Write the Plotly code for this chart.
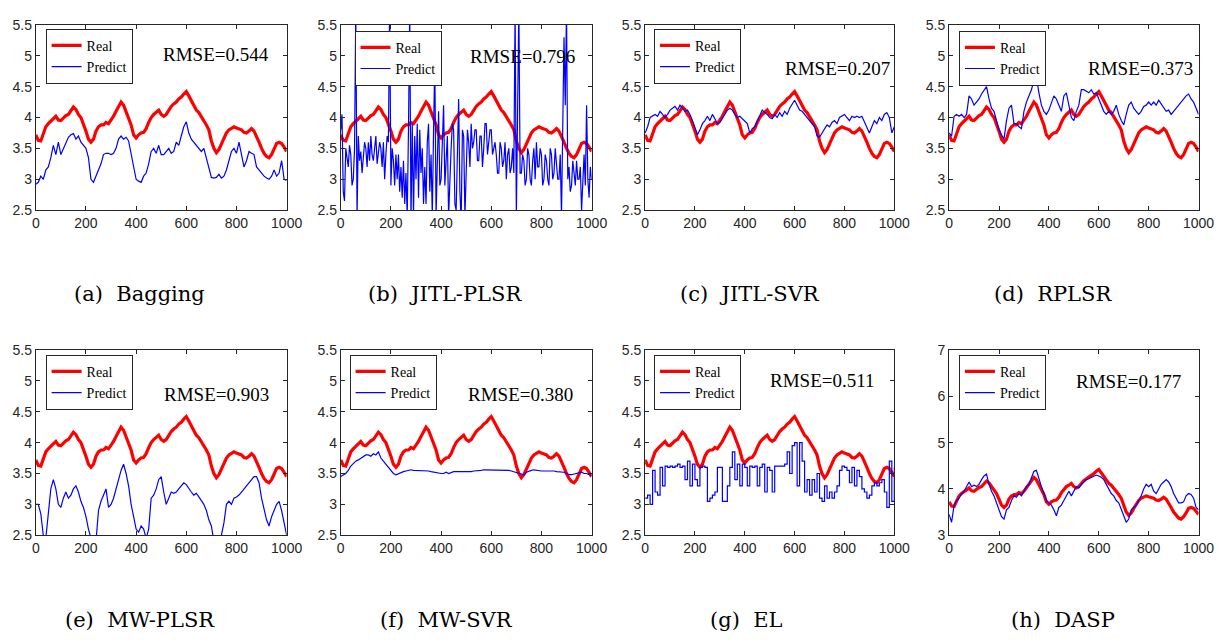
import plotly.graph_objects as go

# ---------------- data ----------------
x_index = list(range(0, 1001, 10))
x_index_fine = list(range(0, 1001, 5))

real = [3.72, 3.63, 3.62, 3.75, 3.85, 3.90, 3.95, 3.98, 4.02, 3.96,
        3.95, 4.00, 4.03, 4.05, 4.12, 4.17, 4.13, 4.05, 4.00, 3.90,
        3.78, 3.65, 3.60, 3.65, 3.78, 3.85, 3.88, 3.88, 3.92, 3.90,
        3.95, 4.02, 4.10, 4.18, 4.25, 4.20, 4.10, 4.00, 3.88, 3.72,
        3.67, 3.72, 3.75, 3.76, 3.82, 3.92, 4.00, 4.05, 4.08, 4.12,
        4.05, 4.02, 4.05, 4.12, 4.18, 4.22, 4.25, 4.30, 4.33, 4.38,
        4.42, 4.35, 4.28, 4.20, 4.12, 4.08, 4.02, 3.95, 3.88, 3.80,
        3.62, 3.50, 3.43, 3.48, 3.58, 3.68, 3.75, 3.80, 3.82, 3.85,
        3.83, 3.82, 3.80, 3.76, 3.75, 3.78, 3.82, 3.78, 3.70, 3.60,
        3.50, 3.42, 3.37, 3.35, 3.40, 3.48, 3.58, 3.60, 3.58, 3.52,
        3.45]

pred_bagging = [2.92, 2.95, 3.05, 3.00, 3.15, 3.20, 3.35, 3.55, 3.40, 3.60,
                3.40, 3.50, 3.60, 3.68, 3.72, 3.74, 3.65, 3.70, 3.60, 3.55,
                3.50, 3.35, 3.00, 2.95, 3.05, 3.15, 3.25, 3.40, 3.42, 3.42,
                3.40, 3.42, 3.50, 3.65, 3.70, 3.65, 3.68, 3.62, 3.40, 3.20,
                3.00, 2.97, 2.95, 3.05, 3.10, 3.25, 3.45, 3.50, 3.42, 3.55,
                3.40, 3.40, 3.45, 3.50, 3.42, 3.45, 3.60, 3.55, 3.70, 3.85,
                3.93, 3.75, 3.65, 3.60, 3.55, 3.50, 3.45, 3.50, 3.35, 3.20,
                3.03, 3.02, 3.03, 3.08, 3.02, 3.05, 3.15, 3.30, 3.45, 3.50,
                3.42, 3.60, 3.40, 3.20, 3.30, 3.45, 3.42, 3.40, 3.20, 3.15,
                3.10, 3.05, 3.02, 3.00, 3.05, 3.15, 3.05, 3.10, 3.30, 3.00,
                2.98]

# sampled every 5 (denser, noisy series)
pred_jitl_plsr = [3.80, 4.05, 2.80, 2.65, 3.50, 3.30, 3.20, 3.55, 3.40, 2.90,
                  3.00, 3.50, 5.80, 2.40, 3.70, 3.30, 3.45, 3.10, 3.30, 3.60,
                  3.50, 3.20, 3.60, 3.30, 3.70, 3.40, 3.30, 3.55, 3.70, 3.25,
                  3.40, 3.60, 3.50, 3.20, 3.60, 3.00, 3.40, 3.70, 3.60, 5.90,
                  2.90, 3.50, 3.30, 2.90, 3.40, 3.00, 3.40, 2.80, 3.20, 2.70,
                  3.30, 2.60, 3.10, 2.40, 3.80, 5.80, 2.30, 3.90, 2.40, 3.70,
                  3.00, 3.90, 2.70, 3.80, 3.10, 3.50, 2.60, 3.20, 2.60, 3.60,
                  3.90, 2.80, 3.40, 2.40, 3.80, 4.90, 2.40, 3.30, 4.10, 2.90,
                  3.00, 3.60, 4.20, 2.90, 3.30, 3.70, 2.40, 3.10, 3.50, 3.90,
                  3.80, 2.60, 2.50, 3.40, 4.30, 2.80, 2.30, 3.80, 3.70, 2.40,
                  3.30, 3.80, 3.60, 3.20, 3.90, 3.50, 3.60, 3.80, 3.80, 3.30,
                  3.30, 3.70, 3.70, 3.20, 3.50, 3.90, 3.90, 3.40, 3.60, 3.80,
                  3.80, 3.40, 3.50, 3.60, 3.40, 3.10, 3.10, 3.60, 3.50, 3.20,
                  3.30, 3.60, 3.00, 3.40, 3.50, 3.10, 3.20, 3.50, 3.10, 5.80,
                  2.40, 3.90, 5.80, 3.10, 3.10, 3.40, 3.30, 2.90, 3.00, 3.50,
                  3.40, 3.00, 2.90, 3.30, 3.50, 3.00, 3.60, 3.20, 3.20, 3.50,
                  3.40, 2.90, 3.00, 3.40, 3.30, 3.00, 2.90, 3.50, 3.40, 3.00,
                  3.10, 3.50, 3.30, 3.00, 3.00, 3.40, 2.40, 3.60, 5.30, 4.20,
                  5.80, 3.00, 3.20, 2.80, 2.90, 3.30, 3.10, 2.90, 3.30, 3.00,
                  3.00, 3.20, 2.50, 3.00, 3.40, 2.90, 4.20, 3.00, 2.70, 3.20,
                  3.00]

pred_jitl_svr = [3.75, 3.85, 4.00, 4.02, 4.05, 4.02, 4.10, 4.05, 4.00, 4.05,
                 4.12, 4.15, 4.18, 4.12, 4.20, 4.15, 4.10, 4.12, 4.05, 3.95,
                 3.82, 3.72, 3.80, 3.90, 3.95, 4.02, 3.95, 4.05, 3.98, 3.90,
                 3.92, 3.98, 4.05, 4.12, 4.15, 4.12, 4.05, 4.00, 4.02, 3.98,
                 3.95, 3.90, 3.75, 3.82, 3.85, 3.95, 4.05, 4.12, 4.08, 4.05,
                 4.00, 3.98, 4.05, 4.00, 4.08, 4.02, 4.10, 4.05, 4.15, 4.22,
                 4.28, 4.20, 4.12, 4.10, 4.05, 4.00, 3.95, 3.90, 3.85, 3.70,
                 3.68, 3.75, 3.82, 3.88, 3.85, 3.92, 3.95, 3.90, 4.00, 4.02,
                 4.05, 4.00, 3.95, 4.02, 4.00, 4.02, 4.00, 4.02, 3.92, 3.85,
                 3.75, 3.85, 3.95, 3.90, 4.00, 3.95, 4.05, 4.08, 4.00, 3.75,
                 3.85]

pred_rplsr = [3.75, 3.70, 4.02, 4.05, 4.02, 4.05, 4.00, 4.05, 4.35, 4.30,
              4.20, 4.25, 4.30, 4.38, 4.45, 4.50, 4.30, 4.15, 4.10, 3.95,
              3.80, 3.72, 3.65, 3.95, 4.15, 4.20, 3.90, 3.90, 3.85, 3.82,
              4.10, 4.25, 4.35, 4.45, 4.60, 4.65, 4.40, 4.20, 4.10, 4.05,
              4.12, 4.25, 4.35, 4.30, 4.20, 4.10, 4.35, 4.40, 4.20, 4.00,
              3.95, 4.10, 4.20, 4.45, 4.45, 4.42, 4.40, 4.45, 4.38, 4.40,
              4.30, 4.20, 4.10, 4.05, 4.10, 4.05, 4.10, 4.20, 4.05, 3.95,
              3.88, 4.05, 4.20, 4.25, 4.15, 4.10, 4.05, 4.10, 4.18, 4.20,
              4.25, 4.20, 4.25, 4.20, 4.28, 4.22, 4.15, 4.10, 4.12, 4.05,
              4.10, 4.15, 4.20, 4.25, 4.30, 4.35, 4.38, 4.30, 4.25, 4.15,
              4.05]

pred_mw_plsr = [3.00, 3.00, 2.85, 2.50, 2.45, 2.90, 3.25, 3.40, 3.25, 3.00,
                2.95, 3.10, 3.20, 3.10, 3.15, 3.25, 3.30, 3.20, 3.05, 2.95,
                2.80, 2.60, 2.45, 2.30, 2.40, 2.90, 3.05, 3.15, 3.25, 2.95,
                3.00, 3.10, 3.25, 3.40, 3.55, 3.65, 3.50, 3.30, 3.00, 2.80,
                2.60, 2.55, 2.65, 2.60, 2.45, 2.60, 3.10, 3.15, 3.25, 3.40,
                3.45, 3.20, 3.00, 3.10, 3.20, 3.18, 3.20, 3.25, 3.30, 3.35,
                3.32, 3.25, 3.20, 3.15, 3.18, 3.12, 3.05, 3.00, 2.90, 2.75,
                2.65, 2.40, 2.30, 2.35, 2.50, 2.70, 3.00, 3.05, 3.00, 3.10,
                3.12, 3.15, 3.20, 3.25, 3.30, 3.35, 3.40, 3.45, 3.45, 3.35,
                3.10, 2.90, 2.75, 2.65, 2.80, 2.90, 3.00, 3.05, 2.90, 2.70,
                2.50]

pred_mw_svr = [3.45, 3.48, 3.50, 3.55, 3.62, 3.66, 3.70, 3.72, 3.75, 3.78,
               3.80, 3.80, 3.78, 3.82, 3.80, 3.85, 3.75, 3.70, 3.65, 3.60,
               3.55, 3.50, 3.48, 3.50, 3.52, 3.53, 3.54, 3.55, 3.56, 3.55,
               3.55, 3.54, 3.55, 3.55, 3.55, 3.54, 3.53, 3.52, 3.51, 3.50,
               3.50, 3.50, 3.52, 3.50, 3.52, 3.53, 3.53, 3.53, 3.53, 3.52,
               3.53, 3.53, 3.53, 3.54, 3.54, 3.54, 3.55, 3.56, 3.56, 3.56,
               3.56, 3.56, 3.56, 3.55, 3.55, 3.55, 3.55, 3.55, 3.54, 3.53,
               3.52, 3.50, 3.50, 3.48, 3.52, 3.54, 3.55, 3.56, 3.55, 3.54,
               3.54, 3.54, 3.54, 3.55, 3.54, 3.54, 3.53, 3.53, 3.53, 3.52,
               3.50, 3.48, 3.48, 3.49, 3.50, 3.52, 3.52, 3.50, 3.50, 3.48,
               3.47]

pred_el = [3.10, 3.15, 3.00, 3.55, 3.20, 3.15, 3.60, 3.30, 3.62, 3.60,
           3.62, 3.60, 3.62, 3.65, 3.60, 3.62, 3.40, 3.70, 3.30, 3.65,
           3.40, 3.30, 3.60, 3.62, 3.60, 3.05, 3.10, 3.15, 3.20, 3.60,
           3.60, 3.05, 3.05, 3.30, 3.60, 3.85, 3.40, 3.65, 3.30, 3.65,
           3.60, 3.30, 3.62, 3.60, 3.62, 3.30, 3.60, 3.65, 3.20, 3.60,
           3.55, 3.20, 3.62, 3.62, 3.62, 3.62, 3.65, 3.85, 3.50, 3.95,
           4.00, 3.30, 4.00, 3.70, 3.20, 3.40, 3.15, 3.40, 3.20, 3.50,
           3.10, 3.05, 3.30, 3.10, 3.20, 3.10, 3.20, 3.30, 3.55, 3.62,
           3.60, 3.55, 3.35, 3.60, 3.30, 3.55, 3.45, 3.25, 3.20, 3.10,
           3.15, 3.30, 3.35, 3.30, 3.35, 3.40, 3.20, 2.95, 3.70, 3.05,
           3.60]

pred_dasp = [3.45, 3.28, 3.65, 3.75, 3.80, 3.90, 3.95, 4.05, 4.15, 4.05,
             4.08, 4.05, 4.10, 4.20, 4.28, 4.32, 4.10, 3.95, 3.85, 3.70,
             3.55, 3.40, 3.35, 3.55, 3.60, 3.75, 3.85, 3.82, 3.90, 3.85,
             3.95, 4.05, 4.10, 4.25, 4.38, 4.40, 4.20, 4.05, 3.90, 3.75,
             3.70, 3.65, 3.55, 3.42, 3.60, 3.65, 3.75, 3.85, 3.95, 3.85,
             3.95, 4.05, 4.02, 4.10, 4.15, 4.20, 4.22, 4.25, 4.28, 4.30,
             4.28, 4.25, 4.20, 4.10, 4.00, 3.90, 3.85, 3.75, 3.70, 3.55,
             3.40, 3.28, 3.35, 3.55, 3.60, 3.65, 3.75, 3.85, 4.00, 4.10,
             4.05, 4.10, 3.95, 3.90, 4.00, 4.10, 4.15, 4.20, 4.15, 4.05,
             3.90, 3.80, 3.70, 3.70, 3.72, 3.85, 3.90, 3.88, 3.80, 3.60,
             3.55]

panel_captions = ["(a)  Bagging", "(b)  JITL-PLSR", "(c)  JITL-SVR", "(d)  RPLSR",
                  "(e)  MW-PLSR", "(f)  MW-SVR", "(g)  EL", "(h)  DASP"]
rmse_labels = ["RMSE=0.544", "RMSE=0.796", "RMSE=0.207", "RMSE=0.373",
               "RMSE=0.903", "RMSE=0.380", "RMSE=0.511", "RMSE=0.177"]
predictions = [pred_bagging, pred_jitl_plsr, pred_jitl_svr, pred_rplsr,
               pred_mw_plsr, pred_mw_svr, pred_el, pred_dasp]
prediction_x = [x_index, x_index_fine, x_index, x_index,
                x_index, x_index, x_index, x_index]
x_ticks = [0, 200, 400, 600, 800, 1000]
y_ticks_std = [2.5, 3, 3.5, 4, 4.5, 5, 5.5]
y_ticklabels_std = ["2.5", "3", "3.5", "4", "4.5", "5", "5.5"]
y_ticks_dasp = [3, 4, 5, 6, 7]
y_ticklabels_dasp = ["3", "4", "5", "6", "7"]
series_names = ["Real", "Predict"]

# ---------------- layout geometry (pixels) ----------------
W, H = 1232, 643
cols_px = [(32.3, 287.3), (342.3, 597.3), (651.7, 905.0), (960.7, 1214.3)]
rows_px = [(17.3, 207.3), (350.7, 540.7)]
legend_off = [(10, 4), (14, 6), (9, 4), (10, 6), (10, 5), (9, 5), (9, 5), (10, 5)]
rmse_pos = [(160, 48), (472, 50), (792, 62), (1100, 62),
            (161, 396), (470, 396), (777, 382), (1088, 383)]
caption_pos = [(138, 293), (448, 293), (758, 293), (1066, 293),
               (138, 628), (450, 628), (755, 628), (1076, 628)]

AX_COLOR = "#262626"
SERIF = "Liberation Serif, Times New Roman, serif"
CAPTION_FONT = "DejaVu Serif, serif"
SANS = "Liberation Sans, Arial, sans-serif"

fig = go.Figure()
layout = dict(width=W, height=H, margin=dict(l=0, r=0, t=0, b=0),
              paper_bgcolor="white", plot_bgcolor="white", annotations=[])

for i in range(8):
    r, c = divmod(i, 4)
    k = "" if i == 0 else str(i + 1)
    x0, x1 = cols_px[c]
    yt, yb = rows_px[r]
    xa = "x" + k
    ya = "y" + k
    leg = "legend" + k
    fig.add_trace(go.Scatter(x=x_index, y=real, mode="lines", name=series_names[0],
                             line=dict(color="#ff0000", width=3.2),
                             xaxis=xa, yaxis=ya, legend=leg))
    fig.add_trace(go.Scatter(x=prediction_x[i], y=predictions[i], mode="lines",
                             name=series_names[1],
                             line=dict(color="#0000ff", width=1.2,
                                       shape="hv" if i == 6 else "linear"),
                             xaxis=xa, yaxis=ya, legend=leg))
    if i == 7:
        yt_vals, yt_text, yr = y_ticks_dasp, y_ticklabels_dasp, [3, 7]
    else:
        yt_vals, yt_text, yr = y_ticks_std, y_ticklabels_std, [2.5, 5.5]
    common = dict(showline=True, linecolor=AX_COLOR, linewidth=1, mirror="ticks",
                  ticks="inside", ticklen=4, tickcolor=AX_COLOR, showgrid=False,
                  zeroline=False, tickfont=dict(family=SANS, size=14, color=AX_COLOR))
    layout["xaxis" + k] = dict(domain=[x0 / W, x1 / W], range=[0, 1000],
                               tickvals=x_ticks, anchor=ya, **common)
    layout["yaxis" + k] = dict(domain=[1 - yb / H, 1 - yt / H], range=yr,
                               tickvals=yt_vals, ticktext=yt_text, anchor=xa, **common)
    lx, ly = legend_off[i]
    layout[leg] = dict(x=(x0 + lx) / W, y=1 - (yt + ly) / H, xanchor="left", yanchor="top",
                       bgcolor="white", bordercolor=AX_COLOR, borderwidth=1,
                       font=dict(family=SERIF, size=14, color="black"),
                       tracegroupgap=0, itemwidth=30)
    rx, ry = rmse_pos[i]
    layout["annotations"].append(dict(xref="paper", yref="paper", x=rx / W, y=1 - ry / H,
                                      xanchor="left", yanchor="middle", showarrow=False,
                                      text=rmse_labels[i],
                                      font=dict(family=SERIF, size=19, color="black")))
    cx, cy = caption_pos[i]
    layout["annotations"].append(dict(xref="paper", yref="paper", x=cx / W, y=1 - cy / H,
                                      xanchor="center", yanchor="middle", showarrow=False,
                                      text=panel_captions[i],
                                      font=dict(family=CAPTION_FONT, size=21, color="black")))

fig.update_layout(**layout)
fig.write_html("out.html", config={"displayModeBar": False},
               post_script="document.body.style.margin='0';document.body.style.padding='0';")
